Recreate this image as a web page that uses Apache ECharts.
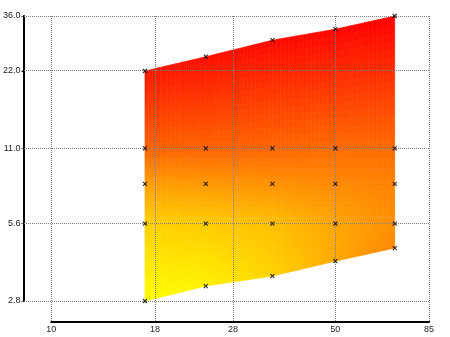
<!DOCTYPE html>
<html><head><meta charset="utf-8">
<script src="https://cdn.jsdelivr.net/npm/echarts@6/dist/echarts.min.js"></script>
<style>html,body{margin:0;padding:0;background:#fff}#c{width:450px;height:337px}</style>
</head><body><div id="c"></div>
<script>
// ---- data ----
const xCols = [17, 24, 35, 50, 70];
const yRowBottom = [2.8, 3.2, 3.5, 4.0, 4.5];
const yRow56 = [5.6, 5.6, 5.6, 5.6, 5.6];
const yRow8 = [8, 8, 8, 8, 8];
const yRow11 = [11, 11, 11, 11, 11];
const yRowTop = [22, 25, 29, 32, 36];
// colour level: 0 = yellow, 1 = red
const zRowBottom = [0.00, 0.05, 0.17, 0.34, 0.48];
const zRow56 = [0.18, 0.20, 0.25, 0.35, 0.44];
const zRow8 = [0.38, 0.40, 0.43, 0.46, 0.49];
const zRow11 = [0.61, 0.61, 0.60, 0.58, 0.58];
const zRowTop = [0.91, 0.94, 0.96, 0.98, 1.00];
const xTicks = [10, 18, 28, 50, 85];
const yTicks = [2.8, 5.6, 11.0, 22.0, 36.0];

const rowsY = [yRowBottom, yRow56, yRow8, yRow11, yRowTop];
const rowsZ = [zRowBottom, zRow56, zRow8, zRow11, zRowTop];

// ---- layout ----
const PL = 22, PR = 429, PT = 16, PB = 322; // plot frame
const XA0 = 51.3;  // pixel of first x tick
const YA0 = 301;   // pixel of first y tick
const lg = Math.log10;
const xLo = xTicks[0], xHi = xTicks[xTicks.length - 1];
const yLo = yTicks[0], yHi = yTicks[yTicks.length - 1];
const xMin = Math.pow(10, lg(xLo) - (XA0 - PL) / (PR - XA0) * (lg(xHi) - lg(xLo)));
const yMin = Math.pow(10, lg(yLo) - (PB - YA0) / (YA0 - PT) * (lg(yHi) - lg(yLo)));

const font = {fontFamily: 'Liberation Sans, Arial, sans-serif', fontSize: 9, color: '#222'};

const cells = [];
for (let j = 0; j < rowsY.length - 1; j++)
  for (let i = 0; i < xCols.length - 1; i++)
    cells.push([xCols[i], rowsY[j][i], i, j]);

const pts = [];
for (let j = 0; j < rowsY.length; j++)
  for (let i = 0; i < xCols.length; i++)
    pts.push([xCols[i], rowsY[j][i]]);

const gridData = xTicks.map(v => [v, yHi, 0]).concat(yTicks.map(v => [xHi, v, 1]));

function col(z) {
  const g = Math.round(255 * (1 - Math.max(0, Math.min(1, z))));
  return 'rgb(255,' + g + ',0)';
}

function renderCell(params, api) {
  const i = api.value(2), j = api.value(3);
  const c00 = api.coord([xCols[i], rowsY[j][i]]);
  const c10 = api.coord([xCols[i + 1], rowsY[j][i + 1]]);
  const c01 = api.coord([xCols[i], rowsY[j + 1][i]]);
  const c11 = api.coord([xCols[i + 1], rowsY[j + 1][i + 1]]);
  const z00 = rowsZ[j][i], z10 = rowsZ[j][i + 1], z01 = rowsZ[j + 1][i], z11 = rowsZ[j + 1][i + 1];
  const bl = (u, v, a, b, c, d) => a * (1 - u) * (1 - v) + b * u * (1 - v) + c * (1 - u) * v + d * u * v;
  const P = (u, v) => [bl(u, v, c00[0], c10[0], c01[0], c11[0]), bl(u, v, c00[1], c10[1], c01[1], c11[1])];
  const N = 16, children = [];
  for (let a = 0; a < N; a++) {
    for (let b = 0; b < N; b++) {
      const u0 = a / N, u1 = (a + 1) / N, v0 = b / N, v1 = (b + 1) / N;
      const z = bl((u0 + u1) / 2, (v0 + v1) / 2, z00, z10, z01, z11);
      const c = col(z);
      children.push({
        type: 'polygon', silent: true,
        shape: {points: [P(u0, v0), P(u1, v0), P(u1, v1), P(u0, v1)]},
        style: {fill: c, stroke: c, lineWidth: 0.6}
      });
    }
  }
  return {type: 'group', children};
}

function renderGridLine(params, api) {
  const cs = params.coordSys;
  const p = api.coord([api.value(0), api.value(1)]);
  const st = {stroke: '#808080', lineWidth: 1, lineDash: [1, 1]};
  if (api.value(2) === 0) {
    const x = Math.round(p[0] - 0.5) + 0.5;
    return {type: 'line', silent: true, shape: {x1: x, y1: cs.y, x2: x, y2: cs.y + cs.height}, style: st};
  }
  const y = Math.round(p[1] - 0.5) + 0.5;
  return {type: 'line', silent: true, shape: {x1: cs.x, y1: y, x2: cs.x + cs.width, y2: y}, style: st};
}

const chart = echarts.init(document.getElementById('c'), null, {renderer: 'canvas'});
chart.setOption({
  animation: false,
  backgroundColor: '#fff',
  grid: [
    {left: PL, top: PT, width: PR - PL, height: PB - PT, containLabel: false},
    {left: XA0, top: PT, width: PR - XA0, height: PB - PT, containLabel: false},
    {left: PL, top: PT, width: PR - PL, height: YA0 - PT, containLabel: false}
  ],
  xAxis: [
    {gridIndex: 0, type: 'log', min: xMin, max: xHi, show: false},
    {gridIndex: 1, type: 'log', min: xLo, max: xHi, position: 'bottom',
      axisLine: {show: true, lineStyle: {color: '#000', width: 2}},
      axisTick: {show: true, inside: true, length: 2, customValues: xTicks, lineStyle: {color: '#000', width: 1}},
      axisLabel: Object.assign({show: true, margin: 3, customValues: xTicks,
        formatter: v => String(Math.round(v))}, font),
      splitLine: {show: false}, minorTick: {show: false}},
    {gridIndex: 2, type: 'value', show: false}
  ],
  yAxis: [
    {gridIndex: 0, type: 'log', min: yMin, max: yHi, show: false},
    {gridIndex: 1, type: 'value', show: false},
    {gridIndex: 2, type: 'log', min: yLo, max: yHi, position: 'left',
      axisLine: {show: true, lineStyle: {color: '#000', width: 2}},
      axisTick: {show: true, inside: false, length: 2, customValues: yTicks, lineStyle: {color: '#000', width: 1}},
      axisLabel: Object.assign({show: true, margin: 3, customValues: yTicks,
        formatter: v => Number(v).toFixed(1)}, font),
      splitLine: {show: false}, minorTick: {show: false}}
  ],
  series: [
    {type: 'custom', xAxisIndex: 0, yAxisIndex: 0, data: cells, renderItem: renderCell,
      encode: {x: 0, y: 1}, clip: false, z: 1, silent: true},
    {type: 'custom', xAxisIndex: 0, yAxisIndex: 0, data: gridData, renderItem: renderGridLine,
      encode: {x: 0, y: 1}, clip: false, z: 3, silent: true},
    {type: 'scatter', xAxisIndex: 0, yAxisIndex: 0, data: pts, z: 5, silent: true,
      symbol: 'path://M0,0L10,10M10,0L0,10', symbolSize: 4,
      itemStyle: {color: 'none', borderColor: '#000', borderWidth: 1.2}}
  ]
});
</script>
</body></html>
